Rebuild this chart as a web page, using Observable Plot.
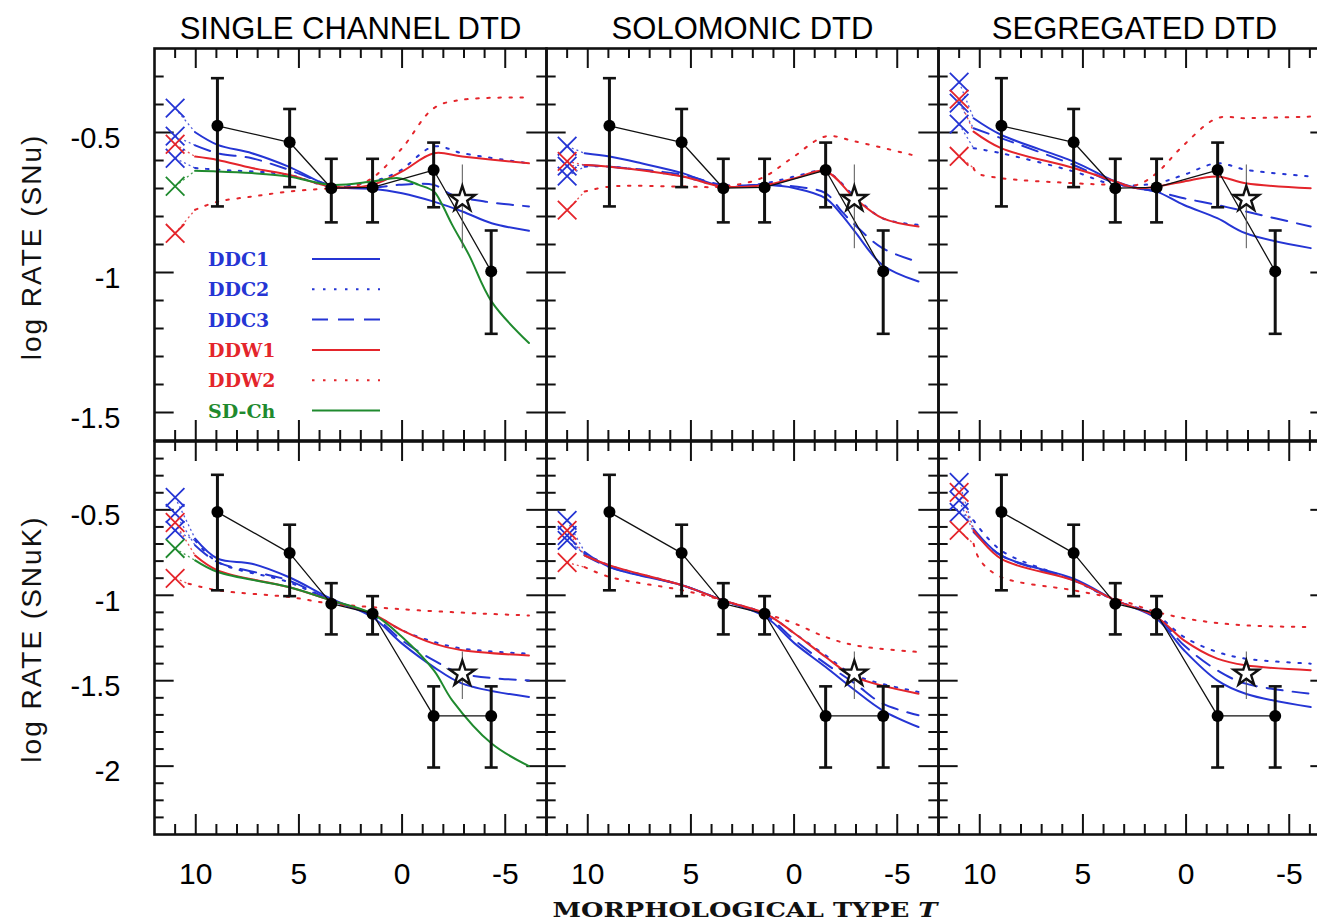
<!DOCTYPE html>
<html><head><meta charset="utf-8">
<script src="https://cdn.jsdelivr.net/npm/d3@7"></script>
<script src="https://cdn.jsdelivr.net/npm/@observablehq/plot@0.6"></script>
<style>
html,body{margin:0;padding:0;background:#fff;overflow:hidden}
#wrap{position:relative;width:1317px;height:924px;overflow:hidden;background:#fff}
#wrap > svg{display:block;max-width:none !important}
#overlay{position:absolute;left:0;top:0}
</style></head><body><div id="wrap"></div>
<script>
// ---------- categories ----------
const PANELS = ["SINGLE CHANNEL DTD", "SOLOMONIC DTD", "SEGREGATED DTD"];
const MODELS = ["DDC1", "DDC2", "DDC3", "DDW1", "DDW2", "SD-Ch"];
const MODEL_COLORS = ["#2535d4", "#2535d4", "#2535d4", "#e4252b", "#e4252b", "#1f8a2e"];
const MODEL_DASH = [null, "2.5,8.5", "16,10", null, "2.5,8.5", null];
const X_TICKS = [10, 5, 0, -5];
const Y_TICKS_SNU = [-0.5, -1, -1.5];
const Y_TICKS_SNUK = [-0.5, -1, -1.5, -2];
const CROSS_T = 11;

// ---------- observed rates ----------
const T_OBS = [8.95, 5.45, 3.43, 1.43, -1.53, -4.32];
const SNU_OBS = [-0.476, -0.535, -0.699, -0.696, -0.634, -0.996];
const SNU_HI  = [-0.306, -0.416, -0.594, -0.594, -0.536, -0.850];
const SNU_LO  = [-0.764, -0.695, -0.821, -0.821, -0.767, -1.219];
const SNUK_OBS = [-0.513, -0.753, -1.049, -1.108, -1.706, -1.706];
const SNUK_HI  = [-0.295, -0.587, -0.929, -1.005, -1.533, -1.533];
const SNUK_LO  = [-0.971, -1.005, -1.229, -1.229, -2.008, -2.008];
const STAR_T = -2.92;
const STAR_SNU = [-0.738, -0.616, -0.915];   // value, hi, lo
const STAR_SNUK = [-1.459, -1.332, -1.610];

// ---------- crosses at T = 11 (order: DDC1, DDC2, DDC3, DDW1, DDW2, SD-Ch) ----------
const CROSS_SC_SNU = [-0.413, -0.592, -0.513, -0.542, -0.860, -0.692];
const CROSS_SO_SNU = [-0.549, -0.656, -0.620, -0.603, -0.777, null];
const CROSS_SG_SNU = [-0.320, -0.470, -0.395, -0.381, -0.585, null];
const CROSS_SC_SNUK = [-0.427, -0.620, -0.521, -0.574, -0.901, -0.726];
const CROSS_SO_SNUK = [-0.562, -0.679, -0.650, -0.620, -0.808, null];
const CROSS_SG_SNUK = [-0.340, -0.515, -0.445, -0.398, -0.620, null];

// ---------- model curves: [T, log rate] ----------
// Single channel, SNu
const SC_SNU_DDC1 = [[10.03,-0.499],[8.94,-0.544],[7.28,-0.574],[5.50,-0.622],[3.44,-0.693],[2.42,-0.699],[1.45,-0.701],[0.0,-0.717],[-1.54,-0.747],[-2.92,-0.782],[-4.34,-0.824],[-6.15,-0.851]];
const SC_SNU_DDC2 = [[10.03,-0.627],[8.94,-0.633],[5.50,-0.651],[3.44,-0.693],[1.45,-0.675],[0.16,-0.639],[-1.54,-0.550],[-2.92,-0.574],[-6.15,-0.610]];
const SC_SNU_DDC3 = [[10.03,-0.546],[8.94,-0.574],[7.28,-0.592],[5.50,-0.633],[3.44,-0.687],[1.45,-0.697],[0.16,-0.687],[-1.54,-0.687],[-2.43,-0.723],[-4.05,-0.747],[-6.15,-0.764]];
const SC_SNU_DDW1 = [[10.03,-0.586],[8.94,-0.598],[7.28,-0.627],[5.50,-0.651],[3.44,-0.693],[1.45,-0.687],[0.0,-0.639],[-1.54,-0.574],[-2.92,-0.586],[-6.15,-0.610]];
const SC_SNU_DDW2 = [[10.03,-0.776],[8.94,-0.747],[7.28,-0.729],[5.50,-0.711],[3.44,-0.699],[2.42,-0.693],[1.45,-0.663],[0.0,-0.556],[-1.54,-0.413],[-2.92,-0.383],[-6.15,-0.375]];
const SC_SNU_SDCH = [[10.03,-0.637],[8.94,-0.639],[7.28,-0.645],[5.50,-0.657],[3.44,-0.687],[1.45,-0.675],[0.16,-0.663],[-0.81,-0.687],[-1.54,-0.711],[-1.95,-0.759],[-2.43,-0.830],[-3.24,-0.937],[-4.34,-1.104],[-6.15,-1.252]];
// Solomonic, SNu
const SO_SNU_DDC1 = [[10.15,-0.574],[8.94,-0.586],[7.40,-0.610],[5.41,-0.645],[3.44,-0.693],[1.38,-0.687],[-0.04,-0.699],[-1.53,-0.735],[-2.31,-0.794],[-2.95,-0.854],[-4.28,-0.973],[-6.03,-1.032]];
const SO_SNU_DDC2 = [[10.15,-0.622],[8.94,-0.622],[5.41,-0.657],[3.44,-0.693],[1.38,-0.681],[-0.04,-0.657],[-1.53,-0.639],[-2.95,-0.729],[-4.28,-0.806],[-6.03,-0.830]];
const SO_SNU_DDC3 = [[10.15,-0.616],[8.94,-0.622],[5.41,-0.651],[3.44,-0.687],[1.38,-0.687],[-0.04,-0.693],[-1.53,-0.717],[-2.31,-0.782],[-2.95,-0.830],[-4.28,-0.913],[-6.03,-0.963]];
const SO_SNU_DDW1 = [[10.15,-0.616],[8.94,-0.622],[5.41,-0.657],[3.44,-0.693],[1.38,-0.687],[-0.04,-0.663],[-1.53,-0.639],[-2.95,-0.735],[-4.28,-0.806],[-6.03,-0.836]];
const SO_SNU_DDW2 = [[10.15,-0.711],[8.94,-0.693],[5.41,-0.693],[3.44,-0.693],[1.58,-0.663],[0.12,-0.592],[-1.53,-0.514],[-2.95,-0.532],[-6.03,-0.586]];
// Segregated, SNu
const SG_SNU_DDC1 = [[10.30,-0.449],[8.97,-0.508],[5.45,-0.604],[3.42,-0.675],[2.37,-0.699],[1.43,-0.711],[0.10,-0.759],[-1.51,-0.806],[-2.89,-0.860],[-6.04,-0.913]];
const SG_SNU_DDC2 = [[10.30,-0.556],[8.97,-0.574],[5.45,-0.639],[3.42,-0.687],[1.43,-0.681],[0.10,-0.651],[-1.51,-0.610],[-2.89,-0.633],[-6.04,-0.657]];
const SG_SNU_DDC3 = [[10.30,-0.485],[8.97,-0.520],[5.45,-0.616],[3.42,-0.681],[2.37,-0.699],[1.43,-0.711],[0.10,-0.735],[-1.51,-0.759],[-2.89,-0.782],[-6.04,-0.836]];
const SG_SNU_DDW1 = [[10.30,-0.497],[8.97,-0.556],[5.45,-0.627],[3.42,-0.675],[2.37,-0.699],[1.43,-0.693],[0.10,-0.675],[-1.51,-0.657],[-2.89,-0.681],[-6.04,-0.699]];
const SG_SNU_DDW2 = [[10.30,-0.627],[10.14,-0.645],[8.97,-0.663],[5.45,-0.681],[3.42,-0.687],[2.37,-0.687],[1.43,-0.645],[0.10,-0.544],[-1.51,-0.449],[-2.89,-0.449],[-6.04,-0.443]];
// Single channel, SNuK
const SC_SNUK_DDC1 = [[10.03,-0.669],[8.94,-0.786],[7.28,-0.815],[5.50,-0.893],[3.44,-1.020],[1.45,-1.127],[0.0,-1.283],[-1.54,-1.420],[-2.92,-1.517],[-6.15,-1.595]];
const SC_SNUK_DDC2 = [[10.03,-0.679],[8.94,-0.806],[5.50,-0.923],[3.44,-1.030],[1.45,-1.108],[0.0,-1.205],[-1.54,-1.273],[-2.92,-1.312],[-6.15,-1.342]];
const SC_SNUK_DDC3 = [[10.03,-0.708],[8.94,-0.806],[5.50,-0.913],[3.44,-1.030],[1.45,-1.118],[0.0,-1.264],[-1.54,-1.381],[-2.92,-1.459],[-6.15,-1.498]];
const SC_SNUK_DDW1 = [[10.03,-0.767],[8.94,-0.854],[5.50,-0.952],[3.44,-1.030],[1.45,-1.108],[0.0,-1.205],[-1.54,-1.283],[-2.92,-1.322],[-6.15,-1.352]];
const SC_SNUK_DDW2 = [[10.35,-0.932],[8.94,-0.971],[5.50,-1.010],[3.44,-1.049],[1.45,-1.069],[-0.81,-1.088],[-4.05,-1.108],[-6.15,-1.118]];
const SC_SNUK_SDCH = [[10.03,-0.796],[8.94,-0.864],[5.50,-0.952],[3.44,-1.030],[1.45,-1.108],[0.0,-1.244],[-1.54,-1.439],[-2.43,-1.615],[-4.34,-1.868],[-6.15,-2.000]];
// Solomonic, SNuK
const SO_SNUK_DDC1 = [[10.15,-0.747],[8.94,-0.835],[5.41,-0.942],[3.44,-1.030],[1.38,-1.127],[-0.04,-1.283],[-1.53,-1.420],[-2.95,-1.556],[-4.28,-1.673],[-6.03,-1.771]];
const SO_SNUK_DDC2 = [[10.15,-0.757],[8.94,-0.825],[5.41,-0.942],[3.44,-1.030],[1.38,-1.108],[-0.04,-1.225],[-1.53,-1.352],[-2.95,-1.468],[-6.03,-1.566]];
const SO_SNUK_DDC3 = [[10.15,-0.767],[8.94,-0.835],[5.41,-0.942],[3.44,-1.030],[1.38,-1.118],[-0.04,-1.264],[-1.53,-1.400],[-2.95,-1.517],[-4.28,-1.634],[-6.03,-1.702]];
const SO_SNUK_DDW1 = [[10.15,-0.767],[8.94,-0.825],[5.41,-0.942],[3.44,-1.030],[1.38,-1.108],[-0.04,-1.225],[-1.53,-1.361],[-2.95,-1.478],[-6.03,-1.576]];
const SO_SNUK_DDW2 = [[10.15,-0.835],[8.94,-0.893],[5.41,-0.971],[3.44,-1.030],[1.38,-1.108],[-0.04,-1.166],[-1.53,-1.244],[-2.95,-1.293],[-6.03,-1.332]];
// Segregated, SNuK
const SG_SNUK_DDC1 = [[10.30,-0.611],[8.97,-0.767],[5.45,-0.903],[3.42,-1.030],[1.43,-1.137],[0.10,-1.322],[-1.51,-1.498],[-2.89,-1.576],[-6.04,-1.654]];
const SG_SNUK_DDC2 = [[10.30,-0.562],[8.97,-0.737],[5.45,-0.913],[3.42,-1.030],[1.43,-1.118],[0.10,-1.244],[-1.51,-1.332],[-2.89,-1.371],[-6.04,-1.400]];
const SG_SNUK_DDC3 = [[10.30,-0.630],[8.97,-0.767],[5.45,-0.913],[3.42,-1.030],[1.43,-1.127],[0.10,-1.293],[-1.51,-1.439],[-2.89,-1.517],[-6.04,-1.576]];
const SG_SNUK_DDW1 = [[10.30,-0.620],[8.97,-0.786],[5.45,-0.913],[3.42,-1.030],[1.43,-1.127],[0.10,-1.264],[-1.51,-1.371],[-2.89,-1.410],[-6.04,-1.439]];
const SG_SNUK_DDW2 = [[10.30,-0.699],[9.98,-0.796],[8.97,-0.893],[5.45,-0.971],[3.42,-1.020],[1.43,-1.098],[-0.54,-1.147],[-2.89,-1.176],[-6.04,-1.186]];

// ---------- layout ----------
const W = 1330, ML = 153;
const FW = (W - ML) / 3;
const INK = "#111";

function curveRows(panel, list) {
  const rows = [];
  list.forEach((pts, i) => { if (pts) pts.forEach(([T, v]) => rows.push({panel, model: MODELS[i], T, v})); });
  return rows;
}
function crossRows(panel, vals, list) {
  const rows = [];
  vals.forEach((v, i) => {
    if (v == null) return;
    const first = list[i] ? list[i][0] : null;
    rows.push({panel, model: MODELS[i], v, T0: first ? first[0] : CROSS_T, v0: first ? first[1] : v});
  });
  return rows;
}
const colorOf = d => MODEL_COLORS[MODELS.indexOf(d.model)];
const CAP = {draw(ctx, size) { const r = Math.sqrt(size / Math.PI); ctx.moveTo(-r, 0); ctx.lineTo(r, 0); }};

function buildRow(cfg) {
  const {curves, crosses, obsV, obsHi, obsLo, star, yDomain, yTicks, MT, IH, MB, titles, xLabels} = cfg;
  const obs = T_OBS.map((T, i) => ({T, v: obsV[i], hi: obsHi[i], lo: obsLo[i]}));
  const caps = obs.flatMap(d => [{T: d.T, v: d.hi}, {T: d.T, v: d.lo}]);
  const starRow = [{T: STAR_T, v: star[0], hi: star[1], lo: star[2]}];
  const lo10 = Math.round(yDomain[0] * 10), hi10 = Math.round(yDomain[1] * 10);
  const yAll = d3.range(lo10 + 1, hi10).map(i => i / 10);
  const yMajor = yAll.filter(v => Math.abs(v * 2 - Math.round(v * 2)) < 1e-9);
  const yMinor = yAll.filter(v => !yMajor.includes(v));
  const xAll = d3.range(-6, 12);
  const xMajor = xAll.filter(v => v % 5 === 0);
  const xMinor = xAll.filter(v => v % 5 !== 0);
  const tk = {stroke: INK, strokeWidth: 2};
  const marks = [
    Plot.tickX(xMinor, {x: d => d, insetBottom: IH - 10, ...tk}),
    Plot.tickX(xMajor, {x: d => d, insetBottom: IH - 20, ...tk}),
    Plot.tickX(xMinor, {x: d => d, insetTop: IH - 10, ...tk}),
    Plot.tickX(xMajor, {x: d => d, insetTop: IH - 20, ...tk}),
    Plot.tickY(yMinor, {y: d => d, insetRight: FW - 10, ...tk}),
    Plot.tickY(yMajor, {y: d => d, insetRight: FW - 20, ...tk}),
    Plot.tickY(yMinor, {y: d => d, insetLeft: FW - 10, ...tk}),
    Plot.tickY(yMajor, {y: d => d, insetLeft: FW - 20, ...tk})
  ];
  marks.push(Plot.link(crosses, {x1: () => CROSS_T, y1: "v", x2: "T0", y2: "v0", fx: "panel",
    stroke: colorOf, strokeWidth: 1.3, strokeDasharray: "2,3", strokeOpacity: 0.8}));
  MODELS.forEach((m, i) => {
    const rows = curves.filter(d => d.model === m);
    if (!rows.length) return;
    const opts = {x: "T", y: "v", fx: "panel", z: "panel", stroke: MODEL_COLORS[i], strokeWidth: 2, curve: "catmull-rom"};
    if (MODEL_DASH[i]) opts.strokeDasharray = MODEL_DASH[i];
    marks.push(Plot.line(rows, opts));
  });
  marks.push(
    Plot.dot(crosses, {x: () => CROSS_T, y: "v", fx: "panel", symbol: "times", r: 8.5, stroke: colorOf, strokeWidth: 1.8}),
    Plot.line(obs, {x: "T", y: "v", stroke: INK, strokeWidth: 1.3}),
    Plot.ruleX(obs, {x: "T", y1: "lo", y2: "hi", stroke: INK, strokeWidth: 3}),
    Plot.dot(caps, {x: "T", y: "v", symbol: CAP, r: 6.5, stroke: INK, strokeWidth: 2.6, fill: "none"}),
    Plot.dot(obs, {x: "T", y: "v", r: 6, fill: "#000"}),
    Plot.ruleX(starRow, {x: "T", y1: "lo", y2: "hi", stroke: "#555", strokeWidth: 1}),
    Plot.dot(starRow, {x: "T", y: "v", symbol: "star", r: 8, fill: "white", stroke: INK, strokeWidth: 2.4}),
    Plot.frame({stroke: INK, strokeWidth: 2.6}),
    Plot.axisY({anchor: "left", ticks: yTicks, tickFormat: d => String(d), tickSize: 0, tickPadding: 34, fontSize: 29, dy: 6, label: null})
  );
  if (titles) marks.push(Plot.axisFx({anchor: "top", label: null, tickSize: 0, tickPadding: 10, fontSize: 31}));
  if (xLabels) marks.push(Plot.axisX({anchor: "bottom", ticks: X_TICKS, tickFormat: d => String(d), tickSize: 0, tickPadding: 28, fontSize: 30, label: null}));
  return Plot.plot({
    width: W, height: MT + IH + MB,
    marginLeft: ML, marginRight: 0, marginTop: MT, marginBottom: MB,
    style: {fontFamily: "'Liberation Sans', Arial, sans-serif", fontSize: "30px", background: "transparent", overflow: "visible", maxWidth: "none"},
    x: {domain: [12, -7], axis: null},
    y: {domain: yDomain, axis: null},
    fx: {domain: PANELS, padding: 0, axis: null},
    marks
  });
}

const topCurves = [
  ...curveRows(PANELS[0], [SC_SNU_DDC1, SC_SNU_DDC2, SC_SNU_DDC3, SC_SNU_DDW1, SC_SNU_DDW2, SC_SNU_SDCH]),
  ...curveRows(PANELS[1], [SO_SNU_DDC1, SO_SNU_DDC2, SO_SNU_DDC3, SO_SNU_DDW1, SO_SNU_DDW2, null]),
  ...curveRows(PANELS[2], [SG_SNU_DDC1, SG_SNU_DDC2, SG_SNU_DDC3, SG_SNU_DDW1, SG_SNU_DDW2, null])
];
const topCrosses = [
  ...crossRows(PANELS[0], CROSS_SC_SNU, [SC_SNU_DDC1, SC_SNU_DDC2, SC_SNU_DDC3, SC_SNU_DDW1, SC_SNU_DDW2, SC_SNU_SDCH]),
  ...crossRows(PANELS[1], CROSS_SO_SNU, [SO_SNU_DDC1, SO_SNU_DDC2, SO_SNU_DDC3, SO_SNU_DDW1, SO_SNU_DDW2, null]),
  ...crossRows(PANELS[2], CROSS_SG_SNU, [SG_SNU_DDC1, SG_SNU_DDC2, SG_SNU_DDC3, SG_SNU_DDW1, SG_SNU_DDW2, null])
];
const botCurves = [
  ...curveRows(PANELS[0], [SC_SNUK_DDC1, SC_SNUK_DDC2, SC_SNUK_DDC3, SC_SNUK_DDW1, SC_SNUK_DDW2, SC_SNUK_SDCH]),
  ...curveRows(PANELS[1], [SO_SNUK_DDC1, SO_SNUK_DDC2, SO_SNUK_DDC3, SO_SNUK_DDW1, SO_SNUK_DDW2, null]),
  ...curveRows(PANELS[2], [SG_SNUK_DDC1, SG_SNUK_DDC2, SG_SNUK_DDC3, SG_SNUK_DDW1, SG_SNUK_DDW2, null])
];
const botCrosses = [
  ...crossRows(PANELS[0], CROSS_SC_SNUK, [SC_SNUK_DDC1, SC_SNUK_DDC2, SC_SNUK_DDC3, SC_SNUK_DDW1, SC_SNUK_DDW2, SC_SNUK_SDCH]),
  ...crossRows(PANELS[1], CROSS_SO_SNUK, [SO_SNUK_DDC1, SO_SNUK_DDC2, SO_SNUK_DDC3, SO_SNUK_DDW1, SO_SNUK_DDW2, null]),
  ...crossRows(PANELS[2], CROSS_SG_SNUK, [SG_SNUK_DDC1, SG_SNUK_DDC2, SG_SNUK_DDC3, SG_SNUK_DDW1, SG_SNUK_DDW2, null])
];

const wrap = document.getElementById("wrap");
wrap.appendChild(buildRow({curves: topCurves, crosses: topCrosses, obsV: SNU_OBS, obsHi: SNU_HI, obsLo: SNU_LO,
  star: STAR_SNU, yDomain: [-1.6, -0.2], yTicks: Y_TICKS_SNU, MT: 48, IH: 392, MB: 0, titles: true, xLabels: false}));
wrap.appendChild(buildRow({curves: botCurves, crosses: botCrosses, obsV: SNUK_OBS, obsHi: SNUK_HI, obsLo: SNUK_LO,
  star: STAR_SNUK, yDomain: [-2.4, -0.1], yTicks: Y_TICKS_SNUK, MT: 1, IH: 393, MB: 90, titles: false, xLabels: true}));
wrap.querySelectorAll(":scope > svg").forEach(s => { s.style.maxWidth = "none"; });

// ---------- overlay: axis titles and legend ----------
const NS = "http://www.w3.org/2000/svg";
const ov = document.createElementNS(NS, "svg");
ov.setAttribute("id", "overlay"); ov.setAttribute("width", 1317); ov.setAttribute("height", 924);
function txt(parent, attrs, content) {
  const t = document.createElementNS(NS, "text");
  for (const k in attrs) t.setAttribute(k, attrs[k]);
  if (content != null) t.textContent = content;
  parent.appendChild(t); return t;
}
const Y_TITLES = ["log RATE (SNu)", "log RATE (SNuK)"];
[[247, Y_TITLES[0]], [639, Y_TITLES[1]]].forEach(([cy, s]) => {
  txt(ov, {x: 0, y: 0, transform: `translate(41,${cy}) rotate(-90)`, "text-anchor": "middle",
    "font-family": "'Liberation Sans', Arial, sans-serif", "font-size": 28, "letter-spacing": 2, fill: "#111"}, s);
});
const xt = txt(ov, {x: 745, y: 917, "text-anchor": "middle", "font-family": "'DejaVu Serif', serif", "font-weight": "bold",
  "font-size": 20, fill: "#111", textLength: 385, lengthAdjust: "spacingAndGlyphs"});
const ts1 = document.createElementNS(NS, "tspan"); ts1.textContent = "MORPHOLOGICAL TYPE "; xt.appendChild(ts1);
const ts2 = document.createElementNS(NS, "tspan"); ts2.setAttribute("font-style", "italic"); ts2.textContent = "T"; xt.appendChild(ts2);
// legend
MODELS.forEach((m, i) => {
  const cy = 259 + i * 30.3;
  txt(ov, {x: 208, y: cy + 7, "font-family": "'DejaVu Serif', serif", "font-weight": "bold", "font-size": 19, fill: MODEL_COLORS[i]}, m);
  const ln = document.createElementNS(NS, "line");
  ln.setAttribute("x1", 312); ln.setAttribute("x2", 380); ln.setAttribute("y1", cy); ln.setAttribute("y2", cy);
  ln.setAttribute("stroke", MODEL_COLORS[i]); ln.setAttribute("stroke-width", 2);
  if (MODEL_DASH[i]) ln.setAttribute("stroke-dasharray", MODEL_DASH[i]);
  ov.appendChild(ln);
});
wrap.appendChild(ov);
</script></body></html>
